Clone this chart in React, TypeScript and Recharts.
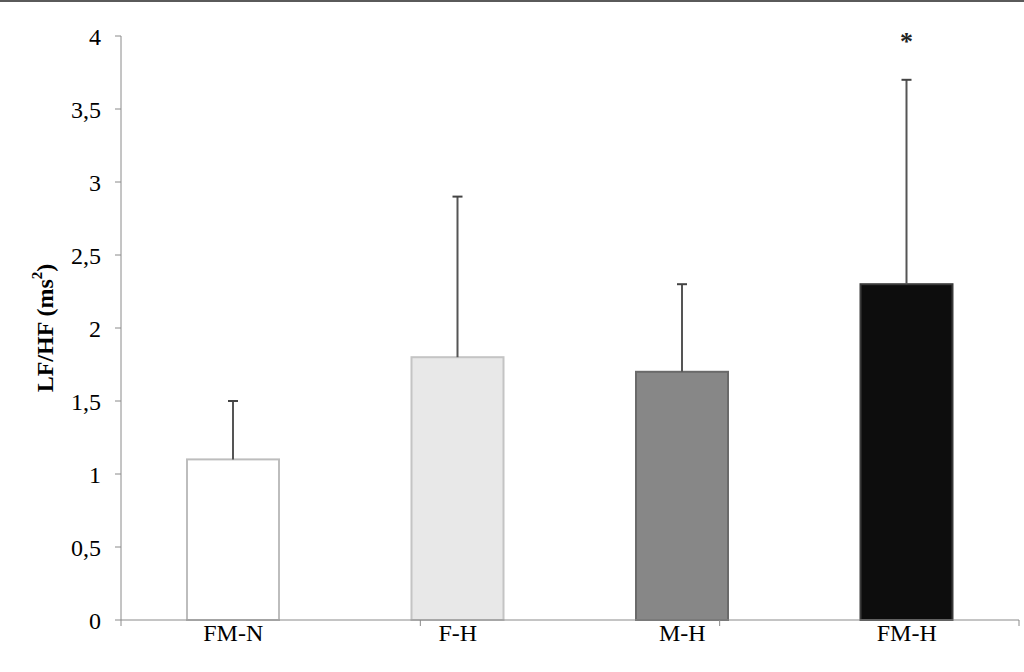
import { BarChart, Bar, XAxis, YAxis, Label } from 'recharts'

// group means, upper SD and significance marks
const groups = ['FM-N', 'F-H', 'M-H', 'FM-H']
const means = [1.1, 1.8, 1.7, 2.3]
const sdUpper = [0.4, 1.1, 0.6, 1.4]
const marks = ['', '', '', '*']
const fills = ['#ffffff', '#e8e8e8', '#878787', '#0d0d0d']
const strokes = ['#bdbdbd', '#c4c4c4', '#6a6a6a', '#3a3a3a']
const yTicks = [0, 0.5, 1, 1.5, 2, 2.5, 3, 3.5, 4]
const edges = [0, 1, 2, 3, 4]

const data = groups.map((g, i) => ({
  group: g,
  mean: means[i],
  sd: sdUpper[i],
  mark: marks[i],
  fill: fills[i],
  stroke: strokes[i],
}))

const serif = '"Liberation Serif", "DejaVu Serif", serif'

// bar + one-sided error whisker + optional significance star
function BarWithError(props: any) {
  const { x, y, width, height, payload } = props
  const k = height / payload.mean
  const top = y - payload.sd * k
  const cx = x + width / 2
  return (
    <g>
      <rect x={x} y={y} width={width} height={height} fill={payload.fill} stroke={payload.stroke} strokeWidth={2} />
      <line x1={cx} y1={y} x2={cx} y2={top} stroke="#555" strokeWidth={2} />
      <line x1={cx - 5} y1={top} x2={cx + 5} y2={top} stroke="#444" strokeWidth={2} />
      {payload.mark && (
        <text x={cx} y={top - 30} textAnchor="middle" fontFamily={serif} fontSize={26} fontWeight="bold" fill="#222">
          {payload.mark}
        </text>
      )}
    </g>
  )
}

function YLabel(props: any) {
  const { viewBox } = props
  const cx = 45
  const cy = viewBox.y + viewBox.height / 2
  return (
    <text x={cx} y={cy} transform={`rotate(-90 ${cx} ${cy})`} textAnchor="middle" dominantBaseline="central"
      fontFamily={serif} fontSize={24} fontWeight="bold" fill="#000">
      LF/HF (ms<tspan baselineShift="super" fontSize={15}>2</tspan>)
    </text>
  )
}

export default function App() {
  return (
    <div style={{ position: 'absolute', left: 0, top: 0, width: 1024, height: 672, background: '#fff' }}>
      <div style={{ position: 'absolute', left: 0, top: 0, width: 1024, height: 2, background: '#5a5a5a' }} />
      <BarChart width={1024} height={672} data={data} margin={{ top: 36, right: 5, left: 61, bottom: 22 }}>
        <XAxis
          xAxisId="a_edge"
          type="number"
          domain={[0, 4]}
          allowDataOverflow
          ticks={edges}
          height={1}
          tickFormatter={() => ''}
          stroke="#8a8a8a"
          tickSize={6}
          interval={0}
        />
        <XAxis
          xAxisId="b_cat"
          dataKey="group"
          axisLine={false}
          tickLine={false}
          tickSize={0}
          tickMargin={3}
          height={29}
          tick={{ fill: '#000', fontSize: 24, fontFamily: serif }}
        />
        <YAxis
          domain={[0, 4]}
          ticks={yTicks}
          interval={0}
          width={60}
          stroke="#8a8a8a"
          tickSize={6}
          tickMargin={14}
          tick={{ fill: '#000', fontSize: 24, fontFamily: serif }}
          tickFormatter={(v: number) => String(v).replace('.', ',')}
        >
          <Label content={<YLabel />} />
        </YAxis>
        <Bar xAxisId="b_cat" dataKey="mean" barSize={92} shape={<BarWithError />} isAnimationActive={false} />
      </BarChart>
    </div>
  )
}
